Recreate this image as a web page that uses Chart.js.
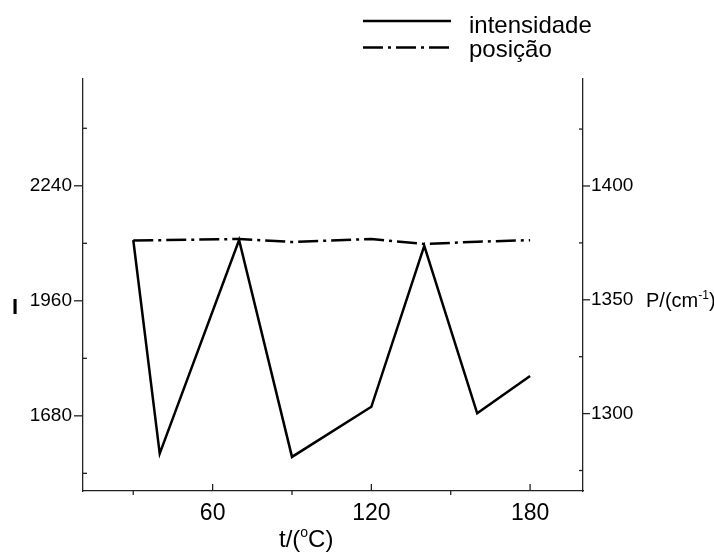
<!DOCTYPE html>
<html>
<head>
<meta charset="utf-8">
<script src="https://cdn.jsdelivr.net/npm/chart.js@4.4.1/dist/chart.umd.min.js"></script>
<style>
  html, body { margin: 0; padding: 0; background: #fff; }
  #wrap { width: 714px; height: 557px; }
</style>
</head>
<body>
<div id="wrap"><canvas id="c" width="714" height="557"></canvas></div>
<script>
// temperatura de cada medida (°C)
const temperatures = [30, 40, 70, 90, 120, 140, 160, 180];
// intensidade da banda
const intensity = [2108, 1588, 2108, 1580, 1702, 2094, 1686, 1777];
// posição da banda (cm-1)
const position = [1376.1, 1376.2, 1376.7, 1375.4, 1376.7, 1374.5, 1375.5, 1376.2];

// marcas dos eixos
const tTicks = [60, 120, 180];
const tMinor = [30, 90, 150];
const iTicks = [1680, 1960, 2240];
const iMinor = [1540, 1820, 2100, 2380];
const pTicks = [1300, 1350, 1400];
const pMinor = [1275, 1325, 1375, 1425];
const seriesNames = ['intensidade', 'posição'];

const FONT = "'Liberation Sans', Arial, sans-serif";
const AXIS_COLOR = '#222';
const DASH_DOT = [20, 5, 3, 5];

// draws text pieces in sequence, allowing raised (superscript) parts
function drawRich(ctx, x, baseline, parts) {
  let cx = x;
  parts.forEach(p => {
    ctx.font = p.size + 'px ' + FONT;
    ctx.fillText(p.text, cx, baseline - (p.rise || 0));
    cx += ctx.measureText(p.text).width;
  });
}

const decor = {
  id: 'decor',
  afterDraw(chart) {
    const ctx = chart.ctx;
    const a = chart.chartArea;
    const sx = chart.scales.x, sI = chart.scales.yI, sP = chart.scales.yP;
    ctx.save();
    ctx.strokeStyle = AXIS_COLOR;
    ctx.lineWidth = 1.3;
    const seg = (x1, y1, x2, y2) => { ctx.beginPath(); ctx.moveTo(x1, y1); ctx.lineTo(x2, y2); ctx.stroke(); };

    iTicks.forEach(v => { const y = sI.getPixelForValue(v); seg(a.left - 9, y, a.left, y); });
    iMinor.forEach(v => { const y = sI.getPixelForValue(v); seg(a.left, y, a.left + 4, y); });
    pTicks.forEach(v => { const y = sP.getPixelForValue(v); seg(a.right, y, a.right + 7, y); });
    pMinor.forEach(v => { const y = sP.getPixelForValue(v); seg(a.right - 4, y, a.right, y); });
    tTicks.forEach(v => { const x = sx.getPixelForValue(v); seg(x, a.bottom, x, a.bottom - 7); });
    tMinor.forEach(v => { const x = sx.getPixelForValue(v); seg(x, a.bottom, x, a.bottom + 4); });

    // axis titles
    ctx.fillStyle = '#000';
    ctx.textBaseline = 'alphabetic';
    ctx.textAlign = 'center';
    ctx.font = 'bold 22px ' + FONT;
    ctx.fillText('I', 15, 314);
    ctx.textAlign = 'left';
    drawRich(ctx, a.right + 63, 307, [
      { text: 'P/(cm', size: 20 },
      { text: '-1', size: 12, rise: 8 },
      { text: ')', size: 20 }
    ]);
    drawRich(ctx, 279, 547, [
      { text: 't/(', size: 24 },
      { text: 'o', size: 14, rise: 10 },
      { text: 'C)', size: 24 }
    ]);

    // legend
    const ds = chart.data.datasets;
    const rows = [21, 47.5];
    const base = [33, 57];
    ds.forEach((d, i) => {
      ctx.strokeStyle = d.borderColor;
      ctx.lineWidth = d.borderWidth;
      ctx.setLineDash(d.borderDash || []);
      ctx.lineCap = 'butt';
      seg(363, rows[i], 451, rows[i]);
      ctx.setLineDash([]);
      ctx.font = '24px ' + FONT;
      ctx.fillText(d.label, 469, base[i]);
    });
    ctx.restore();
  }
};

const tickFont = (size) => ({ family: FONT, size: size });

new Chart(document.getElementById('c'), {
  type: 'line',
  data: {
    datasets: [
      {
        label: seriesNames[0],
        data: temperatures.map((t, i) => ({ x: t, y: intensity[i] })),
        yAxisID: 'yI',
        borderColor: '#000',
        borderWidth: 2.5,
        pointRadius: 0,
        tension: 0,
        fill: false
      },
      {
        label: seriesNames[1],
        data: temperatures.map((t, i) => ({ x: t, y: position[i] })),
        yAxisID: 'yP',
        borderColor: '#000',
        borderWidth: 2.5,
        borderDash: DASH_DOT,
        pointRadius: 0,
        tension: 0,
        fill: false
      }
    ]
  },
  options: {
    responsive: false,
    animation: false,
    devicePixelRatio: 1,
    layout: { padding: { top: 79, left: 0, right: 0, bottom: 0 } },
    plugins: { legend: { display: false }, tooltip: { enabled: false } },
    scales: {
      x: {
        type: 'linear', position: 'bottom', min: 11, max: 200,
        grid: { display: false, drawTicks: false },
        border: { display: true, color: AXIS_COLOR, width: 1.3 },
        afterBuildTicks: s => { s.ticks = tTicks.map(v => ({ value: v })); },
        afterFit: s => { s.height = 66; },
        ticks: { padding: 9, color: '#000', font: tickFont(23), maxRotation: 0, autoSkip: false, callback: v => String(v) }
      },
      yI: {
        type: 'linear', position: 'left', min: 1497, max: 2500,
        grid: { display: false, drawTicks: false },
        border: { display: true, color: AXIS_COLOR, width: 1.3 },
        afterBuildTicks: s => { s.ticks = iTicks.map(v => ({ value: v })); },
        afterFit: s => { s.width = 83; },
        ticks: { padding: 11, color: '#000', font: tickFont(19), autoSkip: false, callback: v => String(v) }
      },
      yP: {
        type: 'linear', position: 'right', min: 1266, max: 1447,
        grid: { display: false, drawTicks: false },
        border: { display: true, color: AXIS_COLOR, width: 1.3 },
        afterBuildTicks: s => { s.ticks = pTicks.map(v => ({ value: v })); },
        afterFit: s => { s.width = 131; },
        ticks: { padding: 8, color: '#000', font: tickFont(19), autoSkip: false, callback: v => String(v) }
      }
    }
  },
  plugins: [decor]
});
</script>
</body>
</html>
